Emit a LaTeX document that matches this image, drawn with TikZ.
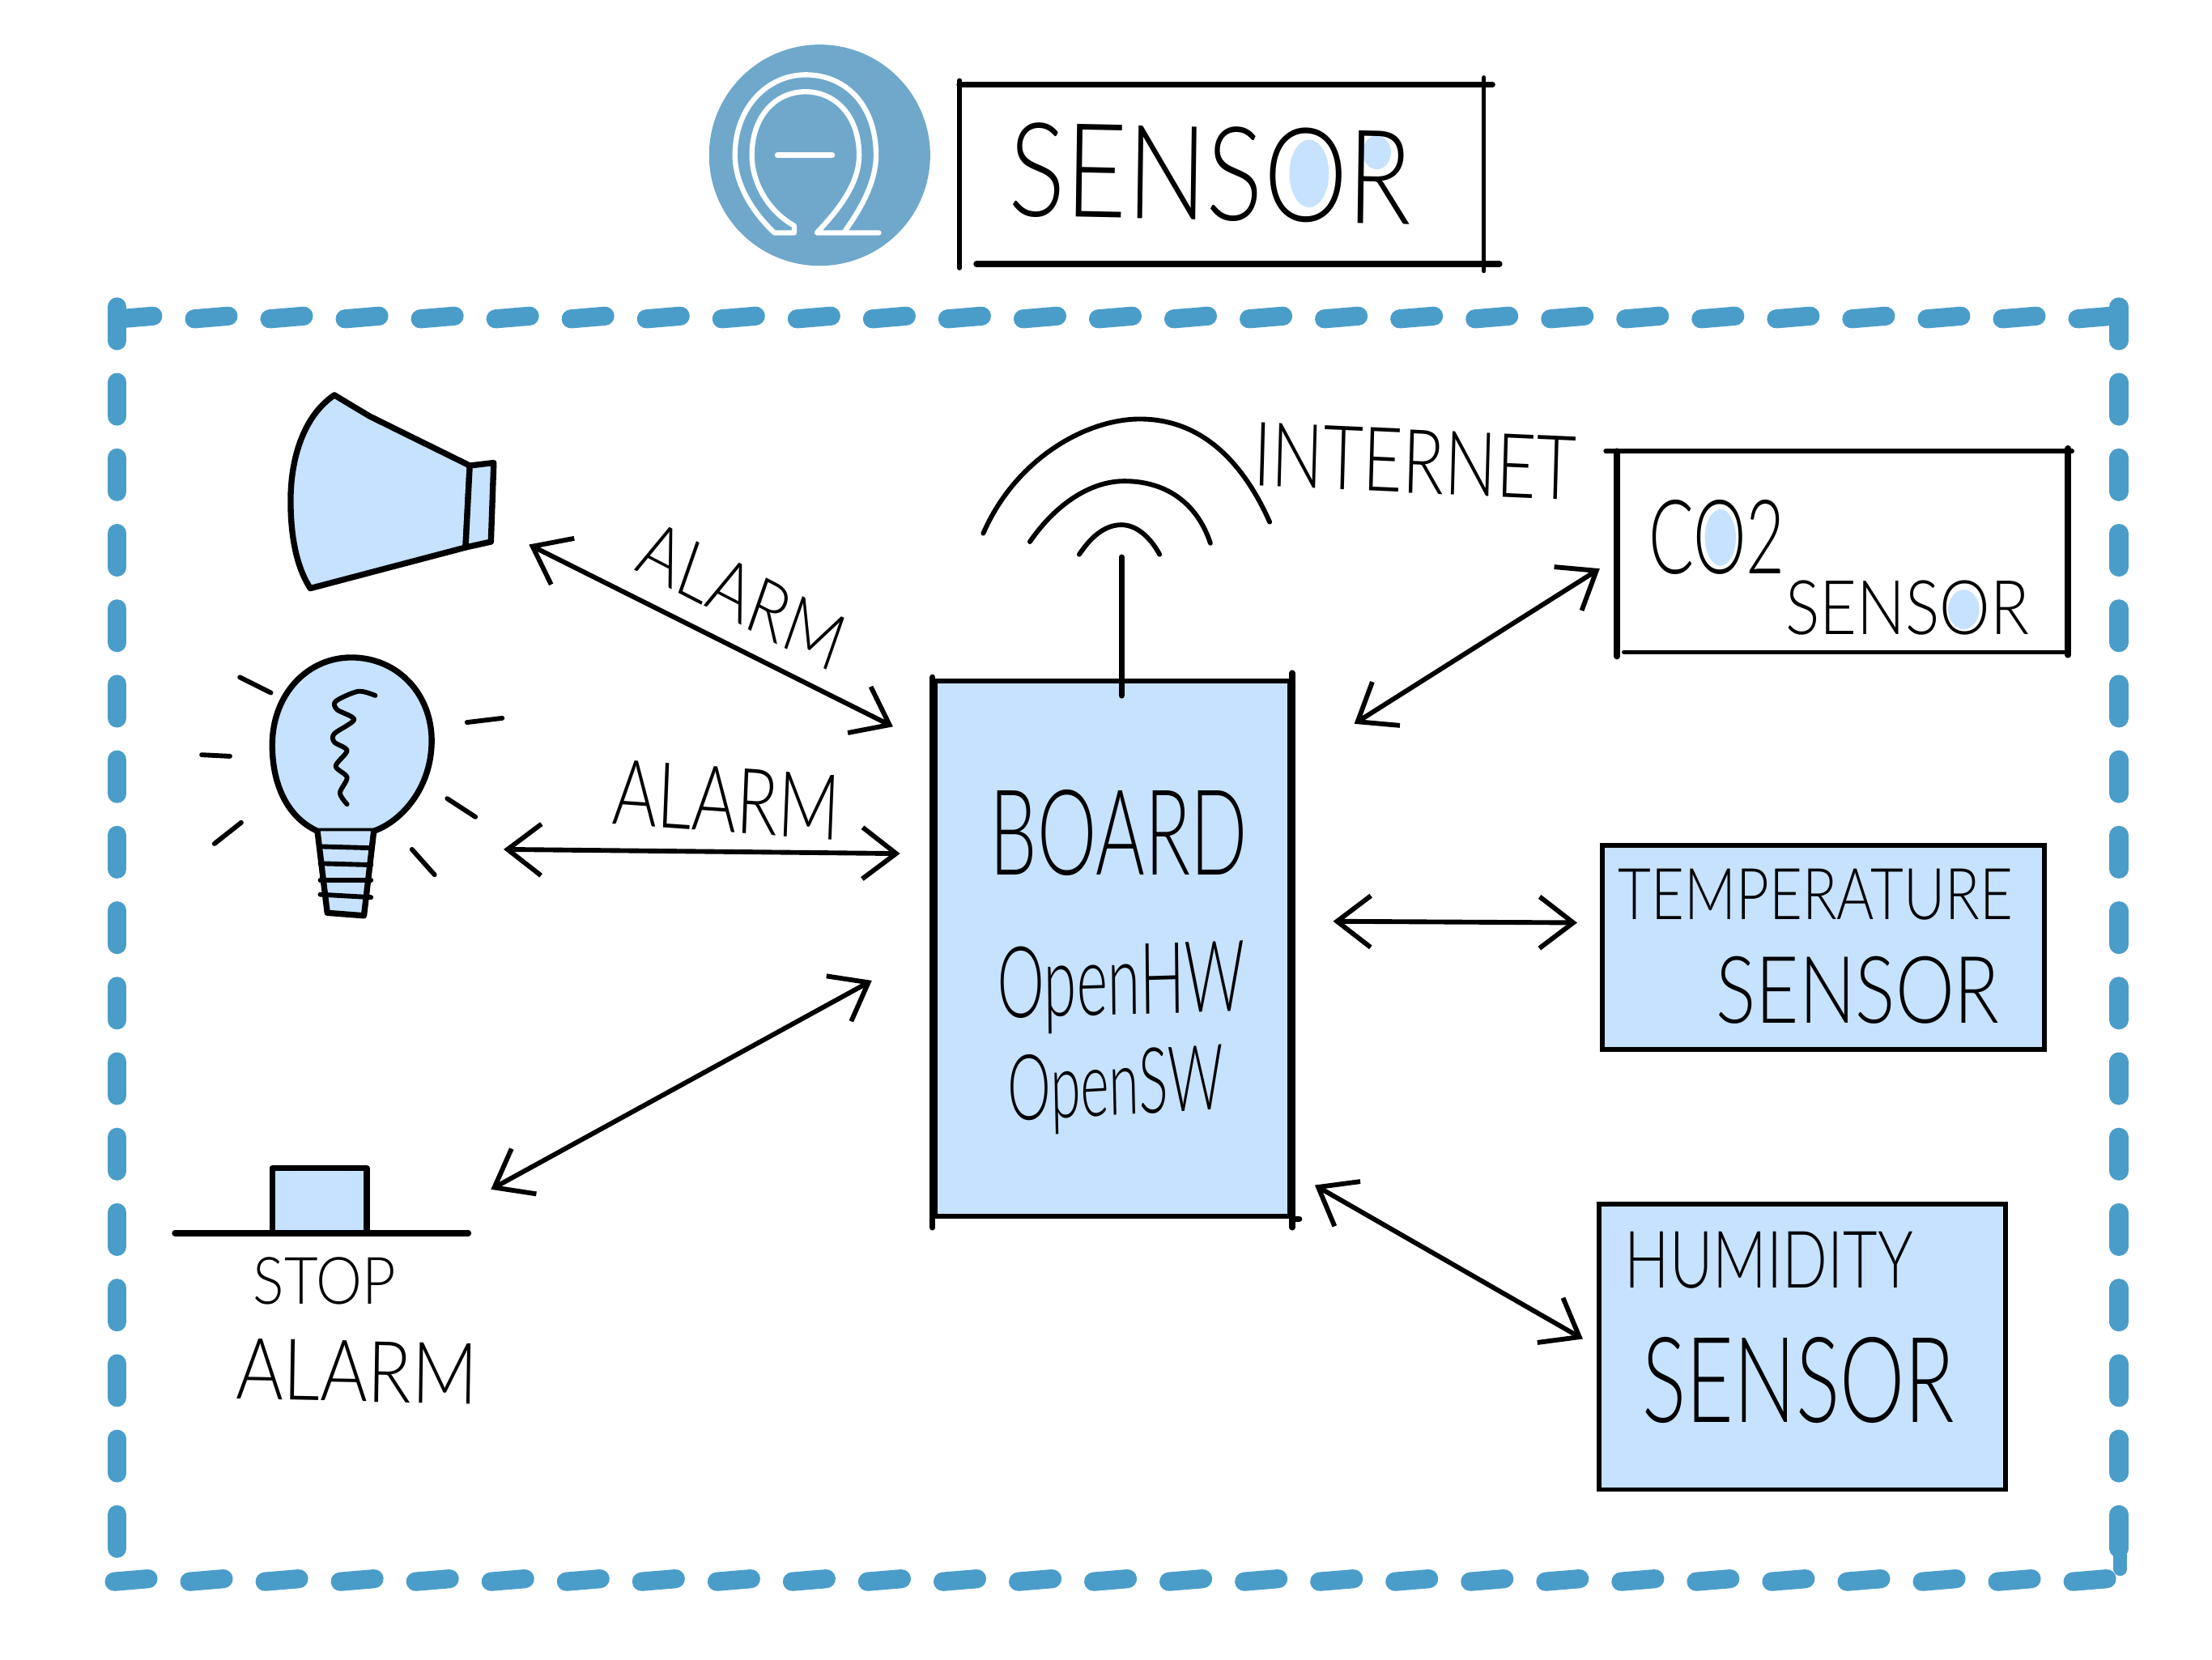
\documentclass[tikz,border=0pt]{standalone}
\usepackage{fontspec}
\setmainfont[UprightFont={* Light}]{Lato}
\usepackage{tikz}
\usetikzlibrary{arrows.meta,positioning,calc}
\definecolor{paleblue}{HTML}{C6E2FF}
\definecolor{framblue}{HTML}{4A9DC9}
\definecolor{logoblue}{HTML}{6FA8CB}
\newcommand{\handsize}[1]{\fontsize{#1}{#1}\selectfont}
\tikzset{
  pen/.style={black,line width=3pt,line cap=round,line join=round},
  thinpen/.style={black,line width=2.4pt,line cap=round,line join=round},
  twoway/.style={thinpen,{Straight Barb[length=17pt,width=26pt]}-{Straight Barb[length=17pt,width=26pt]}},
  sensorbox/.style={draw=black,line width=2.4pt,fill=paleblue,inner sep=0pt},
  emptybox/.style={inner sep=0pt},
  hand/.style={inner sep=0pt,transform shape,text=black},
  blob/.style={framblue,line width=9.5pt,line cap=round},
  omega/.style={white,line width=2.6pt,line join=round,line cap=round}
}
\begin{document}
\begin{tikzpicture}[x=0.25mm,y=-0.25mm]
\useasboundingbox (0,0) rectangle (1568,1176);
\fill[white] (0,0) rectangle (1568,1176);

\node[circle,fill=logoblue,minimum size=111.5pt,inner sep=0pt] (logo) at (581,110) {};
\draw[omega] (563,165)--(549,165) .. controls (533,150) and (521,130) .. (521,110)
  .. controls (521,75) and (545,53) .. (571,53) .. controls (600,53) and (621,75) .. (621,110)
  .. controls (621,130) and (609,150) .. (598,165)--(623,165)--(579,165)
  .. controls (595,148) and (609,130) .. (609,110) .. controls (609,82) and (592,65) .. (571,65)
  .. controls (550,65) and (533,82) .. (533,110) .. controls (533,130) and (545,150) .. (563,160)--cycle;
\draw[omega] (551,110)--(590,110);

\node[emptybox,minimum width=264pt,minimum height=90pt] (titlebox) at (866,123.5) {};
\draw[pen,line width=2.2pt] ($(titlebox.south west)+(0,3)$)--($(titlebox.north west)+(0,-3)$);
\draw[pen] (titlebox.north west)--($(titlebox.north east)+(6,0)$);
\draw[pen,line width=2.2pt] ($(titlebox.north east)+(0,-5)$)--($(titlebox.south east)+(0,5)$);
\draw[pen] ($(titlebox.south west)+(12,0)$)--($(titlebox.south east)+(11,0)$);
\fill[paleblue] (928,123) ellipse (14 and 24);
\fill[paleblue] (976,108) ellipse (10 and 12);
\node[hand,font=\handsize{66},xscale=.81,rotate=-1] (titlelabel) at (858,123) {SENSOR};

\foreach \k in {0,...,26} {
  \draw[blob] (84.4+53.4*\k,226)--(108.4+53.4*\k,224);
  \draw[blob] (81+53.4*\k,1121)--(105+53.4*\k,1119);
}
\foreach \k in {-1,...,15} {
  \draw[blob] (83,271+53.5*\k)--(83,295+53.5*\k);
  \draw[blob] (1502,271+53.5*\k)--(1502,295+53.5*\k);
}
\draw[blob,line width=7pt] (1503,1095)--(1503,1112);

\draw[pen,fill=paleblue] (237,280) .. controls (215,295) and (206,325) .. (206,355)
  .. controls (206,385) and (212,405) .. (220,417)--(330,388)--(333,330)--(262,295)--cycle;
\draw[pen,fill=paleblue] (333,330)--(350,328)--(348,384)--(330,388)--cycle;

\draw[pen,fill=paleblue] (193,528) .. controls (193,492) and (218,466) .. (249,466)
  .. controls (282,466) and (306,492) .. (306,525) .. controls (306,558) and (285,582) .. (265,589)
  --(225,589) .. controls (205,580) and (193,558) .. (193,528)--cycle;
\draw[pen,fill=paleblue] (225,589)--(232,647)--(258,649)--(265,589);
\foreach \ya/\yb in {600/601,612/613,624/624,634/636}
  \draw[thinpen] (227,\ya)--(263,\yb);
\draw[thinpen] plot[smooth] coordinates {(266,493) (254,490) (238,497) (239,503) (251,510) (237,520) (237,526) (246,532) (238,543) (246,551) (241,562) (246,570)};
\foreach \xa/\ya/\xb/\yb in {170/480/192/491,143/535/163/536,152/598/171/583,331/512/356/509,317/566/337/579,292/602/308/620}
  \draw[thinpen] (\xa,\ya)--(\xb,\yb);

\draw[pen,fill=paleblue] (193,874)--(193,828)--(260,828)--(260,874);
\draw[pen] (124,874)--(332,874);
\node[hand,font=\handsize{33},xscale=.89] (stoplabel) at (230,908) {STOP};
\node[hand,font=\handsize{43},xscale=.85,rotate=-1] (alarmstop) at (253,972) {ALARM};

\node[sensorbox,minimum width=179pt,minimum height=270pt] (board) at (788.5,672.5) {};
\draw[pen] ($(board.north west)+(0,-1)$)--($(board.south west)+(0,6)$);
\draw[pen] ($(board.north east)+(0,-4)$)--($(board.south east)+(0,6)$);
\draw[pen] (board.south east)--($(board.south east)+(5,0)$);
\draw[pen] (795,395)--(795,493);
\draw[thinpen] (697,378) .. controls (720,325) and (770,297) .. (808,297) .. controls (850,297) and (880,325) .. (900,370);
\draw[thinpen] (730,384) .. controls (750,355) and (775,341) .. (797,341) .. controls (825,341) and (848,355) .. (858,385);
\draw[thinpen] (765,393) .. controls (775,378) and (785,372) .. (795,372) .. controls (805,372) and (815,380) .. (822,393);
\node[hand,font=\handsize{60},xscale=.63] (boardlabel) at (793,590) {BOARD};
\node[hand,font=\handsize{50},xscale=.6,rotate=1] (hwlabel) at (795,700) {OpenHW};
\node[hand,font=\handsize{46},xscale=.6,rotate=2] (swlabel) at (791,773) {OpenSW};
\node[hand,font=\handsize{45},xscale=.77,rotate=-2] (netlabel) at (1003,327) {INTERNET};

\node[emptybox,minimum width=227pt,minimum height=101pt] (co2box) at (1306,391) {};
\draw[pen,line width=2.2pt] ($(co2box.north west)+(-8,0)$)--($(co2box.north east)+(3,0)$);
\draw[pen] ($(co2box.north west)+(0,0)$)--($(co2box.south west)+(0,3)$);
\draw[pen] ($(co2box.north east)+(0,-2)$)--($(co2box.south east)+(0,2)$);
\draw[pen,line width=2.2pt] ($(co2box.south west)+(5,0)$)--(co2box.south east);
\fill[paleblue] (1219.5,381) ellipse (11 and 20);
\fill[paleblue] (1392,432) ellipse (11 and 14);
\node[hand,font=\handsize{52},xscale=.65] (co2label) at (1217,381) {CO2};
\node[hand,font=\handsize{38},xscale=.85] (co2sensor) at (1352,431) {SENSOR};

\node[sensorbox,minimum width=223pt,minimum height=103pt] (tempbox) at (1292.5,671.5) {};
\node[hand,font=\handsize{36},xscale=.8] (templabel) at (1287,634) {TEMPERATURE};
\node[hand,font=\handsize{47},xscale=.8] (tempsensor) at (1317,702) {SENSOR};

\node[sensorbox,minimum width=205pt,minimum height=144pt] (humbox) at (1277.5,954.5) {};
\node[hand,font=\handsize{40},xscale=.75] (humlabel) at (1254,893) {HUMIDITY};
\node[hand,font=\handsize{60},xscale=.69] (humsensor) at (1275,978) {SENSOR};

\node[hand,font=\handsize{40},xscale=.82,rotate=-23] (alarmhorn) at (526,422) {ALARM};
\node[hand,font=\handsize{46},xscale=.75,rotate=-3] (alarmbulb) at (515,567) {ALARM};

\coordinate (hornport) at (375,386);
\coordinate (boardhorn) at (633,515);
\coordinate (bulbport) at (357,602);
\coordinate (boardbulb) at (638,605);
\coordinate (stopport) at (348,843);
\coordinate (boardstop) at (618,695);
\coordinate (boardco2) at (960,513);
\coordinate (co2port) at (1134,403);
\coordinate (boardtemp) at (945,653);
\coordinate (tempport) at (1118,654);
\coordinate (boardhum) at (932,840);
\coordinate (humport) at (1122,949);
\draw[twoway] (hornport)--(boardhorn);
\draw[twoway] (bulbport)--(boardbulb);
\draw[twoway] (stopport)--(boardstop);
\draw[twoway] (boardco2)--(co2port);
\draw[twoway] (boardtemp)--(tempport);
\draw[twoway] (boardhum)--(humport);
\end{tikzpicture}
\end{document}
